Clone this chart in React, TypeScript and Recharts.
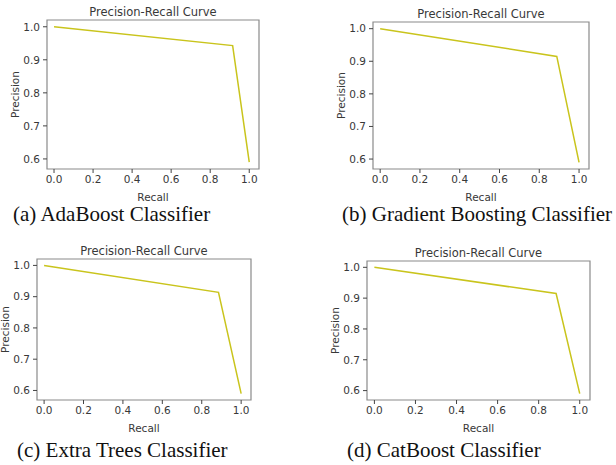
import React from "react";
import { LineChart, Line, XAxis, YAxis, ReferenceArea } from "recharts";

// precision-recall points
const recallAda = [0, 0.915, 1.0];
const precisionAda = [1.0, 0.943, 0.59];
const recallGb = [0, 0.888, 1.0];
const precisionGb = [1.0, 0.915, 0.59];
const recallEt = [0, 0.885, 1.0];
const precisionEt = [1.0, 0.914, 0.59];
const recallCat = [0, 0.885, 1.0];
const precisionCat = [1.0, 0.915, 0.59];

const xTicks = [0, 0.2, 0.4, 0.6, 0.8, 1.0];
const yTicks = [0.6, 0.7, 0.8, 0.9, 1.0];
const captions = [
  "(a) AdaBoost Classifier",
  "(b) Gradient Boosting Classifier",
  "(c) Extra Trees Classifier",
  "(d) CatBoost Classifier",
];

const toRows = (r: number[], p: number[]) =>
  r.map((x, i) => ({ recall: x, precision: p[i] }));

const LINE = "#c9c41c";
const SPINE = "#8a8a8a";
const TEXT = "#383838";
const FONT = "DejaVu Sans";
const Y_W = 47;
const X_H = 32;
const X_DOM: [number, number] = [-0.036, 1.05];
const Y_DOM: [number, number] = [0.5695, 1.0205];

type Box = { l: number; t: number; r: number; b: number };

const Panel = ({ box, data }: { box: Box; data: any[] }) => {
  const left = box.l - Y_W;
  const top = box.t - 26;
  const width = box.r - left + 8;
  const height = box.b - top + X_H + 4;
  const tick = { fill: TEXT, fontSize: 10.5, fontFamily: FONT };
  const fmt = (v: number) => v.toFixed(1);
  return (
    <div style={{ position: "absolute", left, top }}>
      <LineChart
        width={width}
        height={height}
        data={data}
        margin={{ top: box.t - top, right: 8, left: 0, bottom: 4 }}
      >
        <XAxis
          xAxisId="b"
          type="number"
          dataKey="recall"
          domain={X_DOM}
          ticks={xTicks}
          interval={0}
          tickFormatter={fmt}
          tick={tick}
          tickSize={4}
          tickMargin={3}
          height={X_H}
          axisLine={false}
          tickLine={{ stroke: "#444" }}
          allowDataOverflow
          label={{
            value: "Recall",
            position: "insideBottom",
            offset: 0,
            fill: TEXT,
            fontSize: 10.5,
            fontFamily: FONT,
          }}
        />
        <YAxis
          yAxisId="l"
          type="number"
          domain={Y_DOM}
          ticks={yTicks}
          interval={0}
          tickFormatter={fmt}
          tick={tick}
          tickSize={4}
          tickMargin={3}
          width={Y_W}
          axisLine={false}
          tickLine={{ stroke: "#444" }}
          allowDataOverflow
          label={{
            value: "Precision",
            angle: -90,
            position: "insideLeft",
            offset: 15,
            fill: TEXT,
            fontSize: 10.5,
            fontFamily: FONT,
            style: { textAnchor: "middle" },
          }}
        />
        <ReferenceArea
          xAxisId="b"
          yAxisId="l"
          x1={X_DOM[0]}
          x2={X_DOM[1]}
          y1={Y_DOM[0]}
          y2={Y_DOM[1]}
          fill="none"
          fillOpacity={0}
          stroke={SPINE}
          strokeWidth={1.2}
          label={{
            value: "Precision-Recall Curve",
            position: "top",
            offset: 4,
            fill: TEXT,
            fontSize: 11.5,
            fontFamily: FONT,
          }}
        />
        <Line
          xAxisId="b"
          yAxisId="l"
          type="linear"
          dataKey="precision"
          stroke={LINE}
          strokeWidth={1.5}
          dot={false}
          isAnimationActive={false}
        />
      </LineChart>
    </div>
  );
};

const Caption = ({ text, x, y }: { text: string; x: number; y: number }) => (
  <div
    style={{
      position: "absolute",
      left: x,
      top: y - 9,
      fontFamily: "Liberation Serif",
      fontSize: 21,
      lineHeight: "18px",
      color: "#111",
      whiteSpace: "nowrap",
    }}
  >
    {text}
  </div>
);

export default function App() {
  return (
    <div
      style={{
        position: "absolute",
        left: 0,
        top: 0,
        width: 616,
        height: 465,
        background: "#fff",
        overflow: "hidden",
      }}
    >
      <Panel box={{ l: 47, t: 20, r: 259, b: 169 }} data={toRows(recallAda, precisionAda)} />
      <Panel box={{ l: 373, t: 22, r: 589, b: 169 }} data={toRows(recallGb, precisionGb)} />
      <Panel box={{ l: 37, t: 259, r: 251, b: 400 }} data={toRows(recallEt, precisionEt)} />
      <Panel box={{ l: 367, t: 261, r: 590, b: 400 }} data={toRows(recallCat, precisionCat)} />
      <Caption text={captions[0]} x={13} y={214} />
      <Caption text={captions[1]} x={342} y={214} />
      <Caption text={captions[2]} x={17} y={450} />
      <Caption text={captions[3]} x={347} y={450} />
    </div>
  );
}
